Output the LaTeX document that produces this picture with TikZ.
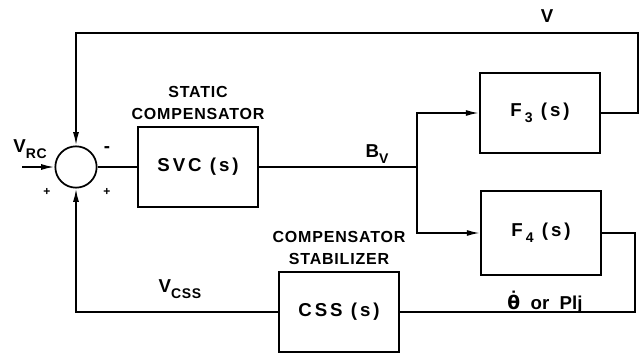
\documentclass[tikz,border=0pt]{standalone}
\usepackage{fontspec}
\setmainfont{Liberation Sans}
\newfontfamily\wide[LetterSpace=16]{Liberation Sans}
\newfontfamily\lab[LetterSpace=5]{Liberation Sans}
\newfontfamily\dv{DejaVu Sans}
\usetikzlibrary{arrows.meta,positioning}
\newcommand{\lowsub}[1]{\raisebox{-4.5pt}{\lab\fontsize{10.5}{10}\selectfont #1}}
\newcommand{\thetadot}{{\dv\ooalign{\hfil\raisebox{3pt}{˙}\hfil\cr θ\cr}}}

\begin{document}
\begin{tikzpicture}[x=0.75pt,y=-0.75pt,
  node distance=4pt,
  box/.style={draw,line width=1.3pt,minimum width=90pt,minimum height=60pt,
              font=\wide\bfseries\fontsize{14}{16}\selectfont},
  sum/.style={draw,circle,line width=1.3pt,minimum size=31pt,inner sep=0pt},
  boxlabel/.style={align=center,inner sep=1pt,font=\lab\bfseries\fontsize{12}{16.5}\selectfont},
  sig/.style={inner sep=1pt,font=\bfseries\fontsize{14}{16}\selectfont},
  wire/.style={line width=1.3pt},
  arr/.style={wire,-{Latex[length=10pt,width=4.5pt]}}
]
\useasboundingbox (0,0) rectangle (639,360);
\node[sum] (sum) at (76,167) {};
\node[box] (svc) at (198,167) {SVC (s)};
\node[box] (f3) at (540,113) {F\,\lowsub{3} (s)};
\node[box,minimum height=63pt] (f4) at (541,233) {F\,\lowsub{4} (s)};
\node[box] (css) at (339,312) {CSS (s)};
\node[boxlabel,above=of svc] (svccap) {STATIC\\COMPENSATOR};
\node[boxlabel,above=of css] (csscap) {COMPENSATOR\\STABILIZER};
\coordinate (in) at (22,167);
\coordinate (bv) at (417,167);
\coordinate (vtop) at (638,33);
\coordinate (fb4) at (635,312);
\node[sig] (vrc) at (30,149) {V\lowsub{RC}};
\node[sig] (vlab) at (547,16) {V};
\node[sig] (bvlab) at (377,154) {B\lowsub{V}};
\node[sig] (vcss) at (180,289) {V\lowsub{CSS}};
\node[sig] (thlab) at (545,302) {\thetadot\ \ or\ \ Plj};
\node[sig] (minus) at (107,150) {-};
\node[sig,font=\bfseries\small] (plus1) at (47,192) {+};
\node[sig,font=\bfseries\small] (plus2) at (107,192) {+};
\draw[arr] (in) -- (sum);
\draw[wire] (sum) -- (svc);
\draw[wire] (svc) -- (bv);
\draw[arr] (bv) |- (f3);
\draw[arr] (bv) |- (f4);
\draw[arr] (f3) -| (vtop) -| (sum);
\draw[wire] (f4) -| (fb4) -- (css);
\draw[arr] (css) -| (sum);
\end{tikzpicture}
\end{document}
